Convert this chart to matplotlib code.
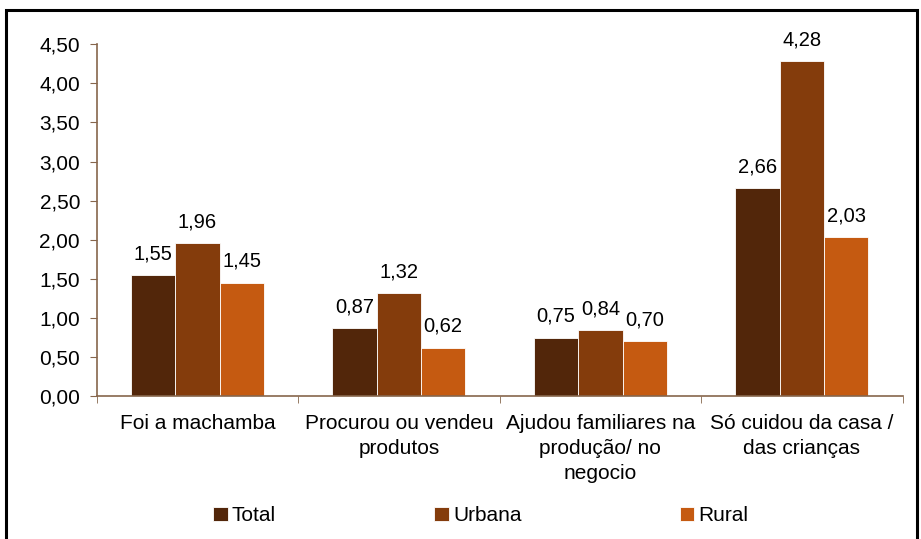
import numpy as np
import matplotlib.pyplot as plt
from matplotlib.patches import Rectangle

categories = ["Foi a machamba", "Procurou ou vendeu\nprodutos",
              "Ajudou familiares na\nprodução/ no\nnegocio", "Só cuidou da casa /\ndas crianças"]
total = [1.55, 0.87, 0.75, 2.66]
urbana = [1.96, 1.32, 0.84, 4.28]
rural = [1.45, 0.62, 0.70, 2.03]

series = [("Total", total, "#52260a"), ("Urbana", urbana, "#843c0c"), ("Rural", rural, "#c55a11")]

plt.rcParams['font.family'] = ['Liberation Sans', 'DejaVu Sans']
axis_col = "#86664c"

fig = plt.figure(figsize=(9.21, 5.39), dpi=100)
ax = fig.add_axes([0.105, 0.265, 0.875, 0.653])

x = np.arange(len(categories))
w = 0.22
for i, (name, vals, col) in enumerate(series):
    bars = ax.bar(x + (i - 1) * w, vals, w, color=col, edgecolor="white", linewidth=0.6, label=name)
    for b, v in zip(bars, vals):
        ax.annotate(f"{v:.2f}".replace(".", ","), (b.get_x() + b.get_width() / 2, v),
                    xytext=(0, 8.5), textcoords="offset points", ha="center", va="bottom", fontsize=14.5)

ax.set_xlim(-0.5, 3.5)
ax.set_ylim(0, 4.5)
ax.set_yticks(np.arange(0, 4.51, 0.5))
ax.set_yticklabels([f"{v:.2f}".replace(".", ",") for v in np.arange(0, 4.51, 0.5)], fontsize=15)
ax.set_xticks(x)
ax.set_xticklabels(categories, fontsize=15, linespacing=1.4)
ax.set_xticks(np.arange(-0.5, 3.6, 1), minor=True)
ax.tick_params(axis="x", which="major", length=0, pad=13)
ax.tick_params(axis="x", which="minor", length=5, color=axis_col, direction="out")
ax.tick_params(axis="y", length=5, color=axis_col, direction="out", pad=7)

for s in ["top", "right"]:
    ax.spines[s].set_visible(False)
for s in ["left", "bottom"]:
    ax.spines[s].set_color(axis_col)
    ax.spines[s].set_linewidth(1.2)

fig.legend(loc="center", bbox_to_anchor=(0.522, 0.043), ncol=3, frameon=False, fontsize=15,
           handlelength=0.7, handleheight=0.7, handletextpad=0.2, columnspacing=7.6)

fig.patches.append(Rectangle((0.007, -0.05), 0.989, 1.032, transform=fig.transFigure,
                             fill=False, edgecolor="black", linewidth=2.2))

fig.savefig("out.png", dpi=100)
